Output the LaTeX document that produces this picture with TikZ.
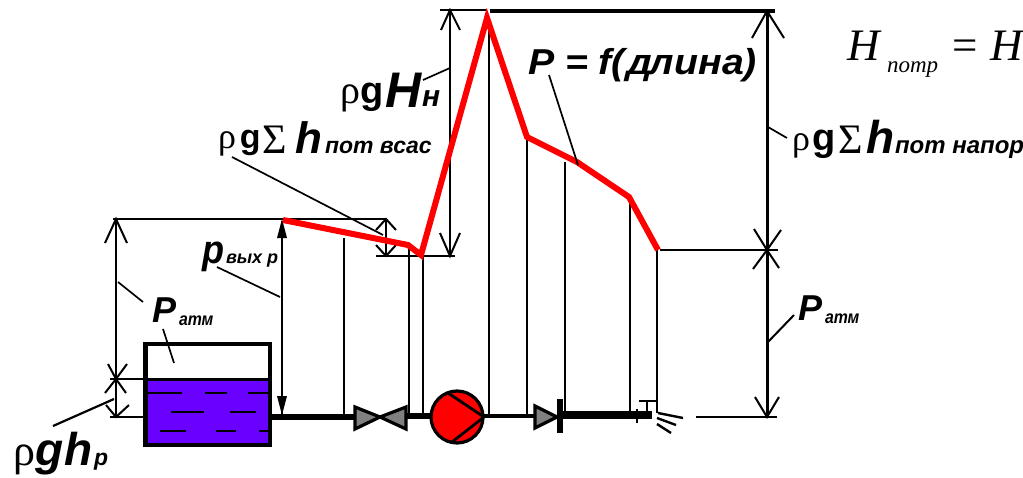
\documentclass[tikz,border=0pt]{standalone}
\usepackage{fontspec}
\setmainfont{Liberation Sans}
\newfontfamily\serifx{Liberation Serif}
\newfontfamily\oblq{Liberation Sans}[FakeSlant=0.22]
\definecolor{liquid}{HTML}{6A00FF}
\definecolor{gauge}{HTML}{808080}
\definecolor{curve}{HTML}{FF0000}
\newcommand{\fs}[1]{\fontsize{#1}{#1}\selectfont}
\newcommand{\rhox}[1]{{\serifx\mdseries\upshape\fs{#1}ρ}}
\newcommand{\sumx}[1]{{\serifx\mdseries\upshape\fs{#1}Σ}}
\newcommand{\gx}[1]{{\upshape\bfseries\fs{#1}g}}
\tikzset{
  lbl/.style={anchor=base west,inner sep=0pt,outer sep=0pt,font=\bfseries\itshape},
  thinln/.style={line width=1.8pt,black},
  medln/.style={line width=2.4pt,black},
  leader/.style={line width=1.7pt,black},
  pipe/.style={line width=6pt,black},
  headln/.style={line width=2pt,black,line join=miter},
  curveln/.style={line width=6pt,curve,line join=miter,miter limit=10},
  equip/.style={draw=black,line width=3.2pt,line join=miter}
}
\begin{document}
\begin{tikzpicture}[x=1pt,y=-1pt]
\clip (0,0) rectangle (1023,477);
\fill[white] (0,0) rectangle (1023,477);
% vertical drop lines
\foreach \xx/\yy/\ye in {344/238/417,409/249/416,423/257/416,489/20/416,527/138/416,565/162/416,630/197/416,657/250/413}
  \draw[medln] (\xx,\yy) -- (\xx,\ye);
% tank
\fill[liquid] (145,379) rectangle (270,445);
\draw[line width=4.5pt,black] (145.5,345) -- (145.5,445) -- (270,445) -- (270,345);
\draw[line width=3.5pt,black] (143,344) -- (272,344);
\draw[line width=3pt,black] (143,379) -- (272,379);
\foreach \ya/\xa/\xb in {393/147/182,393/205/227,393/248/268,412/171/204,412/230/256,431/160/186,431/216/236,431/259/268}
  \draw[medln] (\xa,\ya) -- (\xb,\ya);
% pipes
\draw[pipe] (272,417) -- (355,417);
\draw[pipe] (405,416) -- (432,416);
\draw[line width=4.5pt,black] (484,416) -- (535,416);
\draw[line width=7.5pt,black] (560,415) -- (652,415);
\draw[medln] (637,409) -- (637,423);
\draw[medln] (647,401) -- (647,412);
\draw[medln] (639,401) -- (657,401);
\draw[medln] (658,413) -- (683,418);
\draw[medln] (657,418) -- (676,425);
\draw[medln] (657,424) -- (671,433);
% valve
\draw[equip,fill=gauge] (355,407) -- (355,429) -- (380,417) -- cycle;
\draw[equip,fill=gauge] (406,407) -- (406,429) -- (380,417) -- cycle;
% pump
\node[circle,draw=black,fill=curve,line width=3.2pt,minimum size=52pt,inner sep=0pt] (pump) at (457,417) {};
\draw[line width=2.8pt,black] (448,393) -- (484,417) -- (452,442);
% check valve
\draw[equip,fill=gauge] (535,406) -- (535,428) -- (557,417) -- cycle;
\fill[black] (557,399) rectangle (562.5,433);
% dimension lines: left
\draw[thinln] (113,219) -- (386,219);
\draw[thinln] (110,379) -- (145,379);
\draw[thinln] (110,417) -- (143,417);
\draw[medln] (116,219) -- (116,417);
\draw[headln] (105,243) -- (116,219) -- (127,243);
\draw[headln] (105,393) -- (116,379) -- (126,393);
\draw[headln] (108,364) -- (116,379) -- (127,364);
\draw[headln] (106,405) -- (116,417) -- (129,405);
% p dimension
\draw[medln] (282,221) -- (282,415);
\fill[black] (282,219) -- (277,238) -- (287,238) -- cycle;
\fill[black] (282,415) -- (277,396) -- (287,396) -- cycle;
% suction dimension
\draw[medln] (386,219) -- (386,256);
\draw[headln] (376,230) -- (386,219) -- (396,230);
\draw[headln] (376,245) -- (386,256) -- (396,245);
\draw[thinln] (376,256) -- (455,256);
% pump head dimension
\draw[thinln] (440,10) -- (487,10);
\draw[medln] (450,10) -- (450,256);
\draw[headln] (441,30) -- (450,10) -- (460,30);
\draw[headln] (440,233) -- (450,256) -- (460,233);
% right dimension
\draw[line width=3.5pt,black] (490,11) -- (775,11);
\draw[thinln] (660,250) -- (778,250);
\draw[line width=1.4pt,black] (696,417) -- (777,417);
\draw[line width=3pt,black] (767,11) -- (767,417);
\draw[headln] (752,38) -- (767,11) -- (784,38);
\draw[headln] (754,229) -- (767,250) -- (781,230);
\draw[headln] (753,269) -- (767,250) -- (779,268);
\draw[headln] (755,397) -- (767,417) -- (779,397);
% red curve
\draw[curveln] (283,220) -- (408,245) -- (421,255) -- (487,18) -- (527,137) -- (577,162) -- (629,197) -- (658,250);
% leaders
\draw[leader] (217,267) -- (280,297);
\draw[leader] (118,282) -- (143,302);
\draw[leader] (163,329) -- (174,363);
\draw[line width=2.2pt,black] (53,426) -- (114,399);
\draw[leader] (423,80) -- (450,68);
\draw[leader] (232,157) -- (383,235);
\draw[leader] (549,75) -- (578,165);
\draw[leader] (768,127) -- (787,138);
\draw[line width=2pt,black] (768,342) -- (794,315);
% labels
\node[lbl] (lPa) at (152,322) {\fs{36}P};
\node[lbl] (lPas) at (179,325) {\scalebox{.88}[1]{\fs{18}атм}};
\node[lbl] (lPr) at (798,320) {\fs{36}P};
\node[lbl] (lPrs) at (825,323) {\scalebox{.88}[1]{\fs{18}атм}};
\node[lbl] (lp) at (202,263) {\scalebox{.9}[1]{\fs{40}p}};
\node[lbl] (lps) at (226,263) {\fs{18}вых р};
\node[lbl] (lf) at (528,74) {\scalebox{1.09}[1]{\fs{36}P = f({\oblq\upshape\bfseries д}лина)}};
\node[lbl] (lh1) at (340,103) {\rhox{40}\hspace{1pt}\gx{38}};
\node[lbl] (lh1b) at (385,107) {\fs{50}H};
\node[lbl] (lh1s) at (422,106) {\fs{30}н};
\node[lbl] (lvs) at (218,148) {\rhox{36}\hspace{4pt}\gx{34}};
\node[lbl] (lvsb) at (262,153) {\sumx{42}\hspace{9pt}\fs{44}h};
\node[lbl] (lvss) at (325,153) {\fs{23}пот всас};
\node[lbl] (lnp) at (792,150) {\rhox{36}\hspace{3pt}\gx{38}};
\node[lbl] (lnpb) at (838,153) {\sumx{42}\hspace{4pt}\fs{46}h};
\node[lbl] (lnps) at (895,153) {\fs{24}пот напор};
\node[lbl] (lgh) at (13,465) {\rhox{44}\hspace{1pt}\fs{46}gh};
\node[lbl] (lghs) at (94,465) {\fs{23}р};
% formula
\node[lbl,font=\serifx\itshape] (fH) at (847,60) {\fs{45}H};
\node[lbl,font=\serifx\itshape] (fs) at (887,72) {\fs{23}потр};
\node[lbl,font=\serifx] (feq) at (952,60) {\fs{45}=};
\node[lbl,font=\serifx\itshape] (fH2) at (990,60) {\fs{45}H};
\end{tikzpicture}
\end{document}
